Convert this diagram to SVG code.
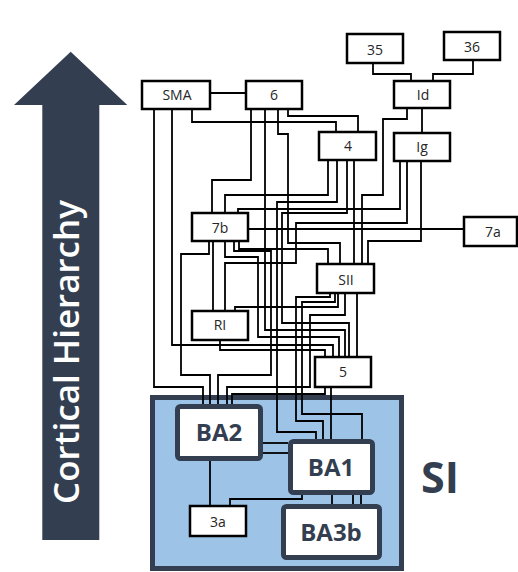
<svg xmlns="http://www.w3.org/2000/svg" width="518" height="572" viewBox="0 0 518 572">
<style>
.bg{fill:#ffffff}
.node rect{fill:#ffffff;stroke:#000000;stroke-width:2.5}
.node text{font-family:"Open Sans","Noto Sans",sans-serif;font-size:14px;fill:#262626;text-anchor:middle}
.ba rect{fill:#ffffff;stroke:#333f50;stroke-width:5}
.ba text{font-family:"Open Sans","Noto Sans",sans-serif;font-size:24px;font-weight:700;fill:#333f50;text-anchor:middle}
#connectors path{fill:none;stroke:#000000;stroke-width:1.8}
</style>
<rect class="bg" x="0" y="0" width="518" height="572"/>
<g id="hierarchy-arrow">
<polygon points="70.7,51.7 127.3,105 99.3,105 99.3,540 42.3,540 42.3,105 14,105" fill="#333f50"/>
<text transform="translate(79,352) rotate(-90)" x="0" y="0" text-anchor="middle" font-family="Open Sans, Noto Sans, sans-serif" font-size="35" font-weight="600" fill="#ffffff">Cortical Hierarchy</text>
</g>
<g id="SI">
<rect x="152.5" y="397.5" width="249" height="171" fill="#9dc3e6" stroke="#333f50" stroke-width="5"/>
<text x="440" y="493" text-anchor="middle" font-family="Open Sans, Noto Sans, sans-serif" font-size="43" font-weight="700" fill="#333f50">SI</text>
</g>
<g id="connectors">
<path d="M210,93 H246"/>
<path d="M192,109 V122 H336 V132"/>
<path d="M288,109 V116 H358 V132"/>
<path d="M251,109 V180 H212 V213"/>
<path d="M328,160 V195 H225 V213"/>
<path d="M400,161 V209 H238 V213"/>
<path d="M248,229 H464"/>
<path d="M373,63 V74 H411 V81"/>
<path d="M473,60 V74 H433 V81"/>
<path d="M422,108 V133"/>
<path d="M407,108 V119 H383 V195 H362 V264"/>
<path d="M354,160 V264"/>
<path d="M421,161 V241 H368 V264"/>
<path d="M239,241 V249 H328 V264"/>
<path d="M278,109 V134 H288 V243 H340 V264"/>
<path d="M172,109 V345 H333 V357"/>
<path d="M154,109 V387 H203 V404"/>
<path d="M209,241 V254 H181 V375 H210 V404"/>
<path d="M213,241 V311"/>
<path d="M407,161 V223 H296 V263 H225 V311"/>
<path d="M220,340 V350 H325 V357"/>
<path d="M325,387 V394 H232 V404"/>
<path d="M331,387 V439"/>
<path d="M263,443 H288"/>
<path d="M263,453 H288"/>
<path d="M210,461 V506"/>
<path d="M302,495 V499 H230 V506"/>
<path d="M332,495 V504"/>
<path d="M353,495 V504"/>
<path d="M361,495 V504"/>
<path d="M338,293 V307 H235 V311"/>
<path d="M345,293 V315 H310 V387 H227 V404"/>
<path d="M357,293 V357"/>
<path d="M265,109 V330 H345 V357"/>
<path d="M234,241 V251 H271 V375 H218 V404"/>
<path d="M337,160 V202 H277 V432 H316 V439"/>
<path d="M225,241 V257 H258 V337 H339 V357"/>
<path d="M347,160 V213 H282 V323 H349 V357"/>
<path d="M330,293 V297 H296 V421 H323 V439"/>
<path d="M335,293 V302 H302 V414 H362 V439"/>
</g>
<g id="node-SMA" class="node"><rect x="142" y="81" width="68" height="28"/><text x="177" y="100">SMA</text></g>
<g id="node-6" class="node"><rect x="246" y="81" width="56" height="28"/><text x="274" y="100">6</text></g>
<g id="node-35" class="node"><rect x="347" y="34" width="56" height="29"/><text x="375" y="55">35</text></g>
<g id="node-36" class="node"><rect x="444" y="32" width="56" height="28"/><text x="472" y="52">36</text></g>
<g id="node-Id" class="node"><rect x="394" y="81" width="56" height="27"/><text x="423" y="100">Id</text></g>
<g id="node-4" class="node"><rect x="319" y="132" width="57" height="28"/><text x="348" y="151">4</text></g>
<g id="node-Ig" class="node"><rect x="394" y="133" width="56" height="28"/><text x="422" y="152">Ig</text></g>
<g id="node-7b" class="node"><rect x="192" y="213" width="56" height="28"/><text x="220" y="233">7b</text></g>
<g id="node-7a" class="node"><rect x="464" y="217" width="53" height="29"/><text x="493" y="237">7a</text></g>
<g id="node-SII" class="node"><rect x="317" y="264" width="57" height="29"/><text x="346" y="285">SII</text></g>
<g id="node-RI" class="node"><rect x="192" y="311" width="56" height="29"/><text x="220" y="330">RI</text></g>
<g id="node-5" class="node"><rect x="315" y="357" width="56" height="30"/><text x="343" y="377">5</text></g>
<g id="node-3a" class="node"><rect x="190" y="506" width="56" height="30"/><text x="218" y="527">3a</text></g>
<g id="node-BA2" class="ba"><rect x="177.5" y="406.5" width="83" height="52" rx="3"/><text x="219" y="441">BA2</text></g>
<g id="node-BA1" class="ba"><rect x="290.5" y="441.5" width="82" height="51" rx="3"/><text x="331" y="476">BA1</text></g>
<g id="node-BA3b" class="ba"><rect x="283.5" y="506.5" width="96" height="51" rx="3"/><text x="331" y="541">BA3b</text></g>
</svg>
